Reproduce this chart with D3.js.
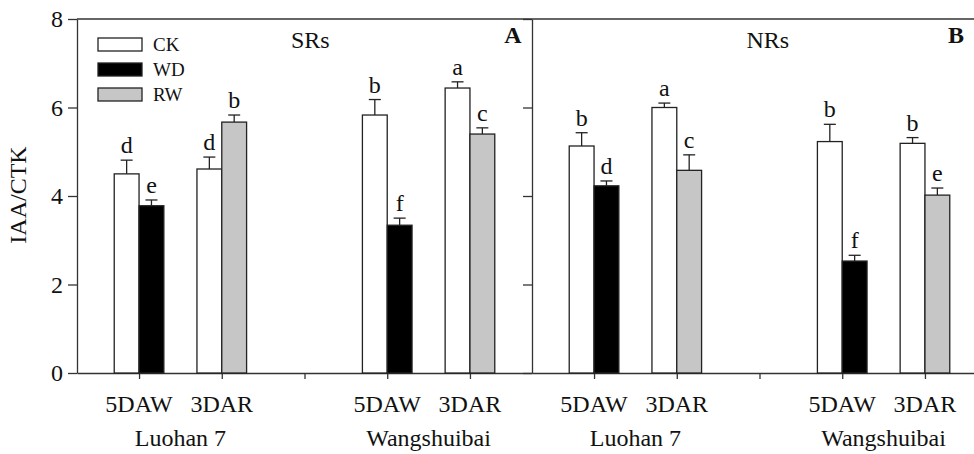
<!DOCTYPE html>
<html>
<head>
<meta charset="utf-8">
<script src="https://cdn.jsdelivr.net/npm/d3@7"></script>
<style>
  html, body { margin: 0; padding: 0; background: #fff; }
  svg { display: block; }
  svg text { font-family: 'Liberation Serif', 'Times New Roman', 'DejaVu Serif', serif; }
</style>
</head>
<body>
<div id="chart"></div>
<script>
// data
const panels = ['SRs', 'NRs']
const panelTags = ['A', 'B']
const cultivars = ['Luohan 7', 'Wangshuibai']
const stages = ['5DAW', '3DAR']
const treatments = ['CK', 'WD', 'RW']
const yTicks = [0, 2, 4, 6, 8]

// one row per panel: [Luohan 5DAW CK, WD, Luohan 3DAR CK, RW, Wang 5DAW CK, WD, Wang 3DAR CK, RW]
const means = [
  [4.50, 3.78, 4.61, 5.67, 5.83, 3.34, 6.44, 5.40],
  [5.13, 4.23, 6.00, 4.58, 5.23, 2.53, 5.19, 4.02]
]
const errors = [
  [0.31, 0.13, 0.27, 0.16, 0.35, 0.16, 0.14, 0.14],
  [0.30, 0.11, 0.10, 0.35, 0.39, 0.13, 0.13, 0.16]
]
const letters = [
  ['d', 'e', 'd', 'b', 'b', 'f', 'a', 'c'],
  ['b', 'd', 'a', 'c', 'b', 'f', 'b', 'e']
]
const barTreatment = ['CK', 'WD', 'CK', 'RW', 'CK', 'WD', 'CK', 'RW']
const barSlot = [1, 1, 2, 2, 4, 4, 5, 5]
const barSide = [-1, 1, -1, 1, -1, 1, -1, 1]

const W = 974, H = 454
const plotTop = 19, plotBottom = 373
const panelLeft = [77, 532]
const panelW = 455
const tagX = [513, 956]
const titleAt = [3.07, 3.1]

const fills = { CK: '#ffffff', WD: '#000000', RW: '#c6c6c6' }
const ink = '#222'
const serif = "'Liberation Serif', 'Times New Roman', serif"

const svg = d3.select('#chart').append('svg')
  .attr('width', W).attr('height', H)
  .attr('font-family', serif)

const y = d3.scaleLinear().domain([0, 8]).range([plotBottom, plotTop])

panels.forEach((p, pi) => {
  const x = d3.scaleLinear().domain([0.25, 5.75]).range([panelLeft[pi], panelLeft[pi] + panelW])
  const bw = x(1.3) - x(1)
  const g = svg.append('g')

  // y axis
  const yAxis = d3.axisLeft(y).tickValues(yTicks).tickSize(9).tickSizeOuter(0)
  if (pi === 1) yAxis.tickFormat('')
  const ya = g.append('g').attr('transform', `translate(${panelLeft[pi]},0)`).call(yAxis)
  ya.attr('font-family', serif)
  ya.selectAll('text').attr('font-size', 24).attr('x', -14).attr('fill', '#111')

  // x axis
  g.append('g').attr('transform', `translate(0,${plotBottom})`)
    .call(d3.axisBottom(x).tickValues([1, 2, 3, 4, 5]).tickSize(6).tickSizeOuter(0).tickFormat(''))

  // top border
  g.append('line')
    .attr('x1', x(0.25)).attr('x2', x(5.75))
    .attr('y1', y(8)).attr('y2', y(8))

  g.selectAll('.domain, .tick line, line').attr('stroke', '#333').attr('stroke-width', 1.3)

  // bars
  const rows = means[pi].map((m, i) => ({
    m, e: errors[pi][i], l: letters[pi][i], t: barTreatment[i],
    cx: x(barSlot[i]) + barSide[i] * bw / 2
  }))
  const bars = g.selectAll('g.bar').data(rows).enter().append('g').attr('class', 'bar')
  bars.append('line')
    .attr('x1', d => d.cx).attr('x2', d => d.cx)
    .attr('y1', d => y(d.m)).attr('y2', d => y(d.m + d.e))
    .attr('stroke', ink).attr('stroke-width', 1.3)
  bars.append('line')
    .attr('x1', d => d.cx - 6).attr('x2', d => d.cx + 6)
    .attr('y1', d => y(d.m + d.e)).attr('y2', d => y(d.m + d.e))
    .attr('stroke', ink).attr('stroke-width', 1.3)
  bars.append('rect')
    .attr('x', d => d.cx - bw / 2).attr('width', bw)
    .attr('y', d => y(d.m)).attr('height', d => y(0) - y(d.m))
    .attr('fill', d => fills[d.t]).attr('stroke', ink).attr('stroke-width', 1.3)
  bars.append('text')
    .attr('x', d => d.cx).attr('y', d => y(d.m + d.e) - 7)
    .attr('text-anchor', 'middle').attr('font-size', 24).attr('fill', '#111')
    .text(d => d.l)

  // stage and cultivar labels
  ;[1, 2, 4, 5].forEach((s, i) => {
    g.append('text').attr('x', x(s)).attr('y', 412)
      .attr('text-anchor', 'middle').attr('font-size', 24).attr('fill', '#111')
      .text(stages[i % 2])
  })
  cultivars.forEach((c, i) => {
    g.append('text').attr('x', x(i * 3 + 1.5)).attr('y', 446)
      .attr('text-anchor', 'middle').attr('font-size', 24).attr('fill', '#111')
      .text(c)
  })

  // panel titles
  g.append('text').attr('x', x(titleAt[pi])).attr('y', 48)
    .attr('text-anchor', 'middle').attr('font-size', 24).attr('fill', '#111')
    .text(p)
  g.append('rect').attr('x', tagX[pi] - 12).attr('y', 21).attr('width', 26).attr('height', 34).attr('fill', '#fff')
  g.append('text').attr('x', tagX[pi]).attr('y', 43)
    .attr('text-anchor', 'middle').attr('font-size', 24).attr('font-weight', 'bold').attr('fill', '#111')
    .text(panelTags[pi])
})

// legend
const leg = svg.append('g')
treatments.forEach((t, i) => {
  const yy = 38 + i * 25
  leg.append('rect').attr('x', 98).attr('y', yy).attr('width', 44).attr('height', 13)
    .attr('fill', fills[t]).attr('stroke', ink).attr('stroke-width', 1.3)
  leg.append('text').attr('x', 153).attr('y', yy + 13)
    .attr('font-size', 19).attr('fill', '#111').text(t)
})

// y label
svg.append('text')
  .attr('transform', `translate(26,195) rotate(-90)`)
  .attr('text-anchor', 'middle').attr('font-size', 24).attr('fill', '#111')
  .text('IAA/CTK')
</script>
</body>
</html>
